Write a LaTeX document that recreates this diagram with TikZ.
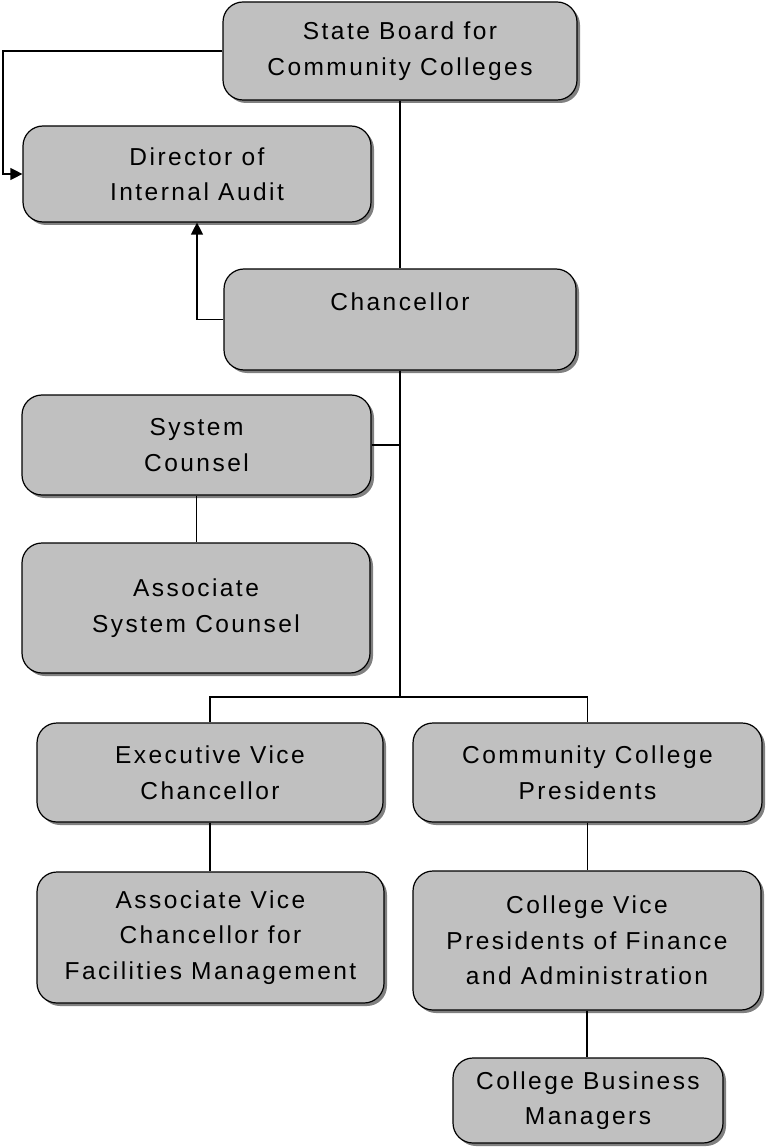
\documentclass[tikz,border=0pt]{standalone}
\usepackage{fontspec}
\setmainfont{Liberation Sans}[LetterSpace=10]
\usetikzlibrary{shadows,arrows.meta}
\definecolor{boxfill}{HTML}{C0C0C0}
\definecolor{shadowgray}{HTML}{808080}
\tikzset{
  orgbox/.style={draw=black, line width=1.2pt, fill=boxfill, rounded corners=20pt,
    align=center, inner sep=0pt,
    font=\fontsize{24.5}{35.5}\selectfont,
    drop shadow={shadow xshift=3pt, shadow yshift=-3pt, fill=shadowgray, opacity=1}},
  link/.style={draw=black, line width=1.2pt},
  arr/.style={link, -{Triangle[length=12pt,width=12pt]}}
}
\begin{document}
\begin{tikzpicture}[x=1pt,y=-1pt]
\useasboundingbox (0,0) rectangle (768,1147);
\node[orgbox, minimum width=354pt, minimum height=98pt] (sb) at (400,51) {State Board for\\Community Colleges};
\node[orgbox, minimum width=348pt, minimum height=96pt] (dir) at (197,174) {Director of\\Internal Audit};
\node[orgbox, minimum width=352pt, minimum height=101pt] (ch) at (400,319.5) {Chancellor\\\mbox{}};
\node[orgbox, minimum width=349pt, minimum height=100pt] (sc) at (196.5,445) {System\\Counsel};
\node[orgbox, minimum width=348pt, minimum height=130pt] (asc) at (196,608) {Associate\\System Counsel};
\node[orgbox, minimum width=346pt, minimum height=99pt] (evc) at (210,772.5) {Executive Vice\\Chancellor};
\node[orgbox, minimum width=349pt, minimum height=99pt] (ccp) at (587.5,772.5) {Community College\\Presidents};
\node[orgbox, minimum width=347pt, minimum height=131pt] (avc) at (210.5,937.5) {Associate Vice\\Chancellor for\\Facilities Management};
\node[orgbox, minimum width=348pt, minimum height=139pt] (cvp) at (587,940.5) {College Vice\\Presidents of Finance\\and Administration};
\node[orgbox, minimum width=270pt, minimum height=85pt] (cbm) at (588,1100.5) {College Business\\Managers};
\coordinate (lk) at (3,110);
\coordinate (j) at (400,697);
\draw[arr] (sb.west) -| (lk) |- (dir.west);
\draw[link] (sb.south) -- (ch.north);
\draw[arr] (ch.west) -| (dir.south);
\draw[link] (ch.south) -- (j);
\draw[link] (sc.east) -- (sc.east -| j);
\draw[link] (sc.south) -- (sc.south |- asc.north);
\draw[link] (j) -| (evc.north);
\draw[link] (j) -| (ccp.north);
\draw[link] (evc.south) -- (evc.south |- avc.north);
\draw[link] (ccp.south) -- (ccp.south |- cvp.north);
\draw[link] (cvp.south) -- (cvp.south |- cbm.north);
\end{tikzpicture}
\end{document}
